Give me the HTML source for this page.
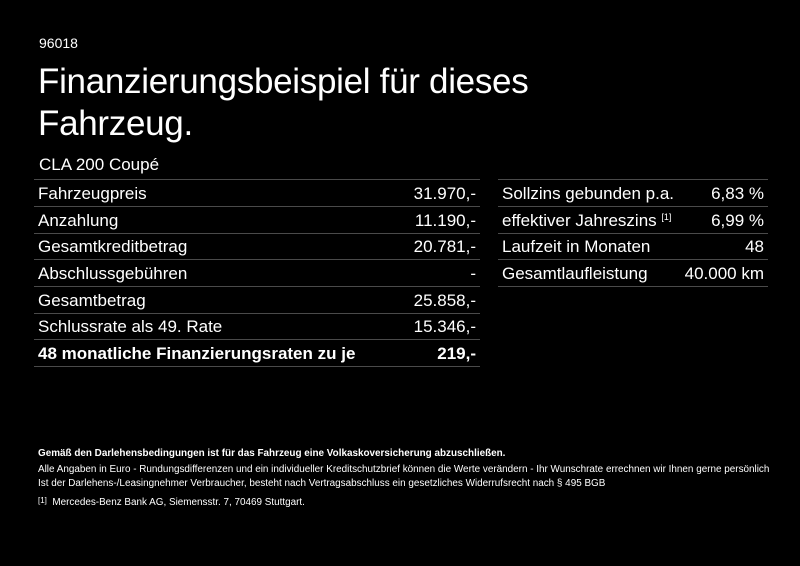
<!DOCTYPE html>
<html><head><meta charset="utf-8"><style>
body{margin:0;background:#000;width:800px;height:566px;overflow:hidden;font-family:"Liberation Sans",Arial,sans-serif;color:#fff;position:relative}
.a{position:absolute;white-space:nowrap}
.row{position:absolute;height:26px;border-bottom:1px solid #4a4a4a;font-size:17px;line-height:27px}
.row .l{position:absolute;left:4px}
.row .r{position:absolute;right:4px}
sup{line-height:0;font-size:9px;vertical-align:6px}
.fn{position:absolute;left:38px;font-size:10px;transform-origin:0 0;transform:scaleX(0.99);white-space:nowrap}
</style></head><body>
<div class="a" style="left:39px;top:35px;font-size:14px">96018</div>
<div class="a" style="left:38px;top:61px;font-size:35px;line-height:42px;letter-spacing:-0.3px">Finanzierungsbeispiel für dieses<br>Fahrzeug.</div>
<div class="a" style="left:39px;top:155px;font-size:17px">CLA 200 Coupé</div>
<div style="position:absolute;left:34px;top:179px;width:446px;border-top:1px solid #4a4a4a"></div>
<div class="row" style="left:34px;width:446px;top:180px"><span class="l">Fahrzeugpreis</span><span class="r">31.970,-</span></div>
<div class="row" style="left:34px;width:446px;top:207px"><span class="l">Anzahlung</span><span class="r">11.190,-</span></div>
<div class="row" style="left:34px;width:446px;top:233px"><span class="l">Gesamtkreditbetrag</span><span class="r">20.781,-</span></div>
<div class="row" style="left:34px;width:446px;top:260px"><span class="l">Abschlussgebühren</span><span class="r">-</span></div>
<div class="row" style="left:34px;width:446px;top:287px"><span class="l">Gesamtbetrag</span><span class="r">25.858,-</span></div>
<div class="row" style="left:34px;width:446px;top:313px"><span class="l">Schlussrate als 49. Rate</span><span class="r">15.346,-</span></div>
<div class="row" style="left:34px;width:446px;top:340px;font-weight:bold"><span class="l">48 monatliche Finanzierungsraten zu je</span><span class="r">219,-</span></div>
<div style="position:absolute;left:498px;top:179px;width:270px;border-top:1px solid #4a4a4a"></div>
<div class="row" style="left:498px;width:270px;top:180px"><span class="l">Sollzins gebunden p.a.</span><span class="r">6,83 %</span></div>
<div class="row" style="left:498px;width:270px;top:207px"><span class="l">effektiver Jahreszins <sup>[1]</sup></span><span class="r">6,99 %</span></div>
<div class="row" style="left:498px;width:270px;top:233px"><span class="l">Laufzeit in Monaten</span><span class="r">48</span></div>
<div class="row" style="left:498px;width:270px;top:260px"><span class="l">Gesamtlaufleistung</span><span class="r">40.000 km</span></div>
<div class="fn" style="top:448px;font-weight:bold">Gemäß den Darlehensbedingungen ist für das Fahrzeug eine Volkaskoversicherung abzuschließen.</div>
<div class="fn" style="top:464px">Alle Angaben in Euro - Rundungsdifferenzen und ein individueller Kreditschutzbrief können die Werte verändern - Ihr Wunschrate errechnen wir Ihnen gerne persönlich</div>
<div class="fn" style="top:478px">Ist der Darlehens-/Leasingnehmer Verbraucher, besteht nach Vertragsabschluss ein gesetzliches Widerrufsrecht nach § 495 BGB</div>
<div class="fn" style="top:496px"><span style="font-size:8px;vertical-align:2px">[1]</span>&nbsp; Mercedes-Benz Bank AG, Siemensstr. 7, 70469 Stuttgart.</div>
</body></html>
